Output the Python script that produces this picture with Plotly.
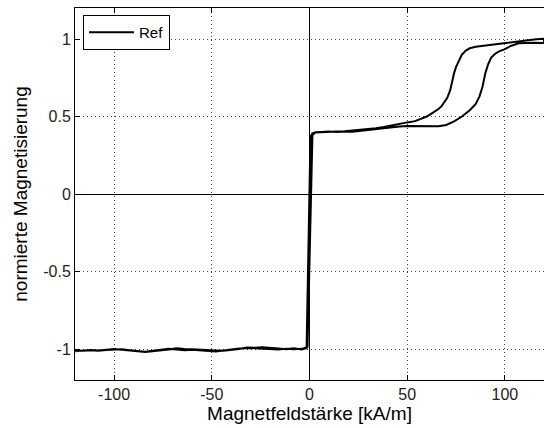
import plotly.graph_objects as go

# Ascending branch (field increasing)
H_up = [-120, -116, -112, -108, -104, -100, -96, -92, -88, -84,
        -80, -76, -72, -68, -64, -60, -56, -52, -48, -44,
        -40, -36, -32, -28, -24, -20, -16, -12, -8, -4,
        -2, -1.5, 0.5, 1.5, 3, 6, 10, 14, 18, 22,
        26, 30, 34, 38, 42, 46, 50, 54, 58, 62,
        66, 70, 74, 78, 82, 85, 87, 88.5, 90, 91.5,
        93, 95, 97, 100, 103, 107, 111, 115, 120]
M_up = [-1.010, -1.012, -1.008, -1.011, -1.006, -1.004, -1.002, -1.008, -1.015, -1.018,
        -1.012, -1.006, -0.998, -1.003, -1.008, -1.005, -1.010, -1.012, -1.016, -1.009,
        -1.002, -0.997, -0.993, -0.996, -1.000, -1.004, -1.003, -0.998, -1.001, -0.999,
        -0.992, -1.000, 0.370, 0.392, 0.398, 0.400, 0.403, 0.400, 0.404, 0.402,
        0.408, 0.412, 0.418, 0.425, 0.430, 0.435, 0.438, 0.437, 0.435, 0.436,
        0.437, 0.445, 0.468, 0.500, 0.540, 0.580, 0.630, 0.690, 0.780, 0.840,
        0.880, 0.905, 0.920, 0.935, 0.955, 0.972, 0.975, 0.976, 0.975]

# Descending branch (field decreasing)
H_down = [120, 116, 112, 108, 104, 100, 96, 92, 88, 85,
          82, 80, 78, 76.5, 75, 74, 73, 72, 70.5, 69,
          67.5, 66, 64, 62, 60, 58, 56, 54, 50, 46,
          42, 38, 34, 30, 26, 22, 18, 14, 10, 6,
          3, 1.5, -1, -2, -4, -8, -12, -16, -20, -24,
          -28, -32, -36, -40, -44, -48, -52, -56, -60, -64,
          -68, -72, -76, -80, -84, -88, -92, -96, -100, -104,
          -108, -112, -116, -120]
M_down = [1.002, 0.998, 0.992, 0.985, 0.978, 0.975, 0.970, 0.962, 0.955, 0.950,
          0.940, 0.925, 0.900, 0.860, 0.820, 0.780, 0.720, 0.670, 0.620, 0.590,
          0.565, 0.548, 0.530, 0.515, 0.500, 0.490, 0.478, 0.470, 0.462, 0.452,
          0.440, 0.432, 0.425, 0.420, 0.414, 0.410, 0.405, 0.404, 0.402, 0.400,
          0.397, 0.380, -0.985, -0.995, -1.003, -0.995, -1.002, -0.996, -0.990, -0.988,
          -0.992, -0.990, -1.000, -1.006, -1.012, -1.010, -1.006, -1.004, -1.002, -1.000,
          -0.995, -1.003, -1.010, -1.015, -1.020, -1.014, -1.010, -1.004, -1.000, -1.005,
          -1.010, -1.006, -1.012, -1.015]

x_ticks = [-100, -50, 0, 50, 100]
x_tick_labels = ["-100", "-50", "0", "50", "100"]
y_ticks = [-1, -0.5, 0, 0.5, 1]
y_tick_labels = ["-1", "-0.5", "0", "0.5", "1"]

FONT = "Liberation Sans, Arial, sans-serif"

fig = go.Figure()
fig.add_trace(go.Scatter(
    x=H_up + H_down, y=M_up + M_down, mode="lines", name="Ref",
    line=dict(color="black", width=2),
))

axis_common = dict(
    ticks="inside", ticklen=5, tickwidth=1, tickcolor="black",
    showline=True, linecolor="black", linewidth=1,
    showgrid=True, gridcolor="#444", gridwidth=1, griddash="1px,3px",
    zeroline=True, zerolinecolor="black", zerolinewidth=1,
    tickfont=dict(family=FONT, size=16, color="#222"),
    automargin=False,
)

fig.update_layout(
    width=544, height=428,
    margin=dict(l=75, r=0, t=8, b=48),
    paper_bgcolor="white", plot_bgcolor="white",
    font=dict(family=FONT, color="black"),
    xaxis=dict(range=[-120, 120], tickvals=x_ticks, ticktext=x_tick_labels,
               mirror="ticks",
               title=dict(text="Magnetfeldstärke [kA/m]",
                          font=dict(family=FONT, size=19, color="black"), standoff=4),
               **axis_common),
    yaxis=dict(range=[-1.2, 1.2], tickvals=y_ticks, ticktext=y_tick_labels,
               title=dict(text="normierte Magnetisierung",
                          font=dict(family=FONT, size=19, color="black"), standoff=10),
               **axis_common),
    showlegend=True,
    legend=dict(x=0.017, y=0.981, xanchor="left", yanchor="top",
                bgcolor="white", bordercolor="black", borderwidth=1,
                font=dict(family=FONT, size=15, color="black"),
                itemwidth=45, tracegroupgap=0),
)

fig.write_html("out.html",
               config={"displayModeBar": False},
               post_script="document.body.style.margin='0';document.body.style.overflow='hidden';")
